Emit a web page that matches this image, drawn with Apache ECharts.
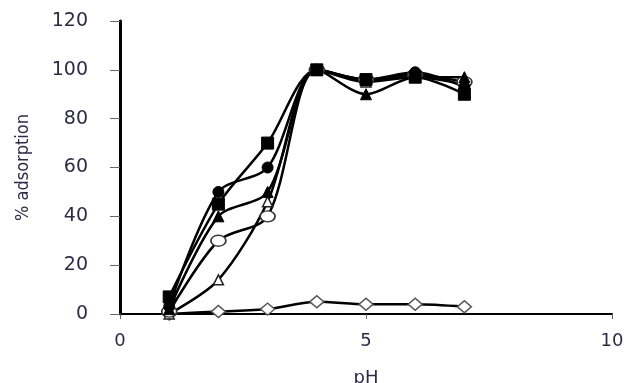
<!DOCTYPE html>
<html>
<head>
<meta charset="utf-8">
<script src="https://cdn.jsdelivr.net/npm/echarts@6/dist/echarts.min.js"></script>
<style>html,body{margin:0;padding:0;background:#fff;}#c{width:628px;height:383px;}</style>
</head>
<body>
<div id="c"></div>
<script>
const pH = [1, 2, 3, 4, 5, 6, 7];
const filledSquare   = [7, 45, 70, 100, 96, 97, 90];
const filledCircle   = [3, 50, 60, 100, 96, 99, 93];
const filledTriangle = [2, 40, 50, 100, 90, 97, 97];
const openCircle     = [1, 30, 40, 100, 96, 98, 95];
const openTriangle   = [0, 14, 46, 100, 95, 97, 94];
const openDiamond    = [0, 1, 2, 5, 4, 4, 3];
const xTicks = [0, 5, 10];
const yTicks = [0, 20, 40, 60, 80, 100, 120];

const pts = arr => pH.map((x, i) => [x, arr[i]]);
const textColor = '#2e2b45';
const wide = '"DejaVu Sans", Verdana, sans-serif';
const narrow = '"Liberation Sans Narrow", "DejaVu Sans Condensed", "Liberation Sans", sans-serif';

function mk(name, arr, symbol, size, filled, borderColor) {
  return {
    name, type: 'line', data: pts(arr), smooth: 0.3,
    symbol, symbolSize: size,
    lineStyle: { color: '#000', width: 2.5 },
    itemStyle: filled ? { color: '#000', borderColor: '#000', borderWidth: 1 }
                      : { color: '#fff', borderColor: borderColor || '#222', borderWidth: 1.5, opacity: 1 },
    showAllSymbol: true, z: 2
  };
}

const chart = echarts.init(document.getElementById('c'), null, { renderer: 'canvas' });
chart.setOption({
  animation: false,
  backgroundColor: '#fff',
  grid: { left: 120, right: 16, top: 21, bottom: 69, containLabel: false, outerBoundsMode: 'none' },
  xAxis: [{
    type: 'value', min: 0, max: 10, interval: 5,
    name: 'pH', nameLocation: 'middle', nameGap: 55,
    nameTextStyle: { color: textColor, fontFamily: wide, fontSize: 18 },
    axisLine: { show: true, onZero: false, lineStyle: { color: '#000', width: 2 } },
    axisTick: { show: true, length: 5, lineStyle: { color: '#666', width: 1 } },
    axisLabel: { color: textColor, fontFamily: wide, fontSize: 18, margin: 18,
      formatter: v => xTicks.includes(v) ? String(v) : '' },
    splitLine: { show: false }
  }, {
    type: 'value', min: 0, max: 10, position: 'top',
    axisLine: { show: true, lineStyle: { color: '#000', width: 1.5 } },
    axisTick: { show: false }, axisLabel: { show: false }, splitLine: { show: false }
  }],
  yAxis: [{
    type: 'value', min: 0, max: 120, interval: 20,
    name: '% adsorption', nameLocation: 'middle', nameGap: 88, nameRotate: 90,
    nameTextStyle: { color: textColor, fontFamily: narrow, fontSize: 18 },
    axisLine: { show: true, onZero: false, lineStyle: { color: '#000', width: 2 } },
    axisTick: { show: true, length: 10, lineStyle: { color: '#666', width: 1 } },
    axisLabel: { color: textColor, fontFamily: wide, fontSize: 19, margin: 32,
      formatter: v => yTicks.includes(v) ? String(v) : '' },
    splitLine: { show: false }
  }, {
    type: 'value', min: 0, max: 120, position: 'right',
    axisLine: { show: true, lineStyle: { color: '#000', width: 3 } },
    axisTick: { show: false }, axisLabel: { show: false }, splitLine: { show: false }
  }],
  series: [
    mk('openDiamond', openDiamond, 'diamond', [14, 12], false, '#555'),
    mk('openTriangle', openTriangle, 'triangle', 10, false, '#222'),
    mk('openCircle', openCircle, 'circle', [15, 11], false, '#333'),
    mk('filledTriangle', filledTriangle, 'triangle', 11, true),
    mk('filledCircle', filledCircle, 'circle', 11, true),
    mk('filledSquare', filledSquare, 'rect', 12, true)
  ]
});
</script>
</body>
</html>
